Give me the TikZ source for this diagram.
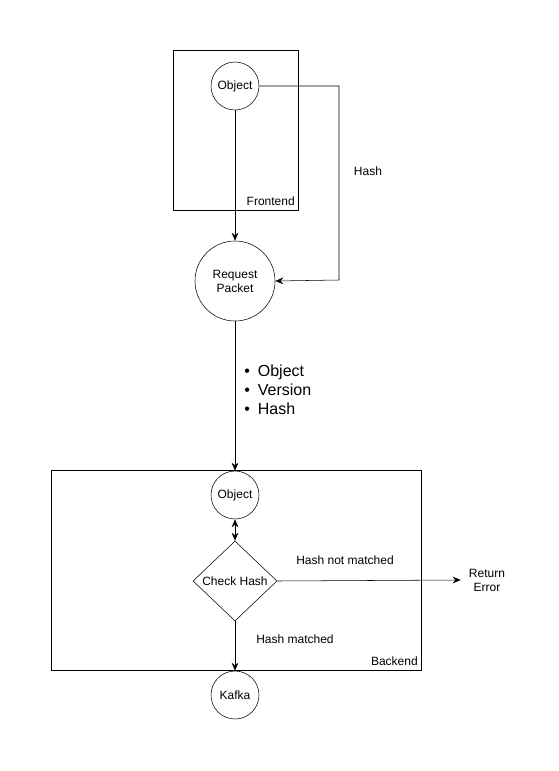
\documentclass[tikz,border=0pt]{standalone}
\usepackage{fontspec}
\setmainfont{Liberation Sans}
\usetikzlibrary{arrows.meta,positioning,shapes.geometric}

\tikzset{
  round/.style={draw,circle,minimum size=48*0.75pt,inner sep=0pt,font=\fontsize{9}{10.5}\selectfont},
  flow/.style={draw,-{Stealth[length=6pt,width=5pt]}},
  lbl/.style={font=\fontsize{9}{10.5}\selectfont,inner sep=0pt}
}

\begin{document}
\begin{tikzpicture}[x=0.75pt,y=-0.75pt]
  \useasboundingbox (0,0) rectangle (559,771);

  % Frontend
  \draw (173,50) rectangle (298,210);
  \node[lbl,anchor=east] (fe) at (295,201) {Frontend};
  \node[round] (obj) at (235,86) {Object};

  % Request packet
  \node[round,minimum size=80*0.75pt,align=center] (req) at (235,281) {Request\\Packet};
  \draw[flow] (obj) -- (req);
  \draw[flow] (obj.east) -- (339,86) -- (339,280) -- (req.east);
  \node[lbl] (hash) at (368,171) {Hash};

  % Payload list
  \node[anchor=west,align=left,inner sep=0pt,font=\fontsize{12}{14.3}\selectfont] (items) at (244,390)
    {\textbullet\hspace{6pt}Object\\ \textbullet\hspace{6pt}Version\\ \textbullet\hspace{6pt}Hash};

  % Backend
  \draw (51,470) rectangle (421,670);
  \node[lbl,anchor=east] (be) at (418,661) {Backend};
  \node[round] (obj2) at (235,495) {Object};
  \draw[flow] (req) -- (obj2);
  \node[draw,diamond,minimum width=84*0.75pt,minimum height=80*0.75pt,inner sep=0pt,
        font=\fontsize{9}{10.5}\selectfont] (check) at (235,581) {Check Hash};
  \draw[{Stealth[length=6pt,width=5pt]}-{Stealth[length=6pt,width=5pt]}] (obj2) -- (check);

  % Outcomes
  \node[lbl,align=center] (err) at (487,580) {Return\\Error};
  \draw[flow] (check.east) -- ([xshift=-8*0.75pt]err.west);
  \node[lbl] (nomatch) at (345,560) {Hash not matched};
  \node[round] (kafka) at (235,695) {Kafka};
  \draw[flow] (check.south) -- (kafka);
  \node[lbl] (match) at (295,639) {Hash matched};
\end{tikzpicture}
\end{document}
